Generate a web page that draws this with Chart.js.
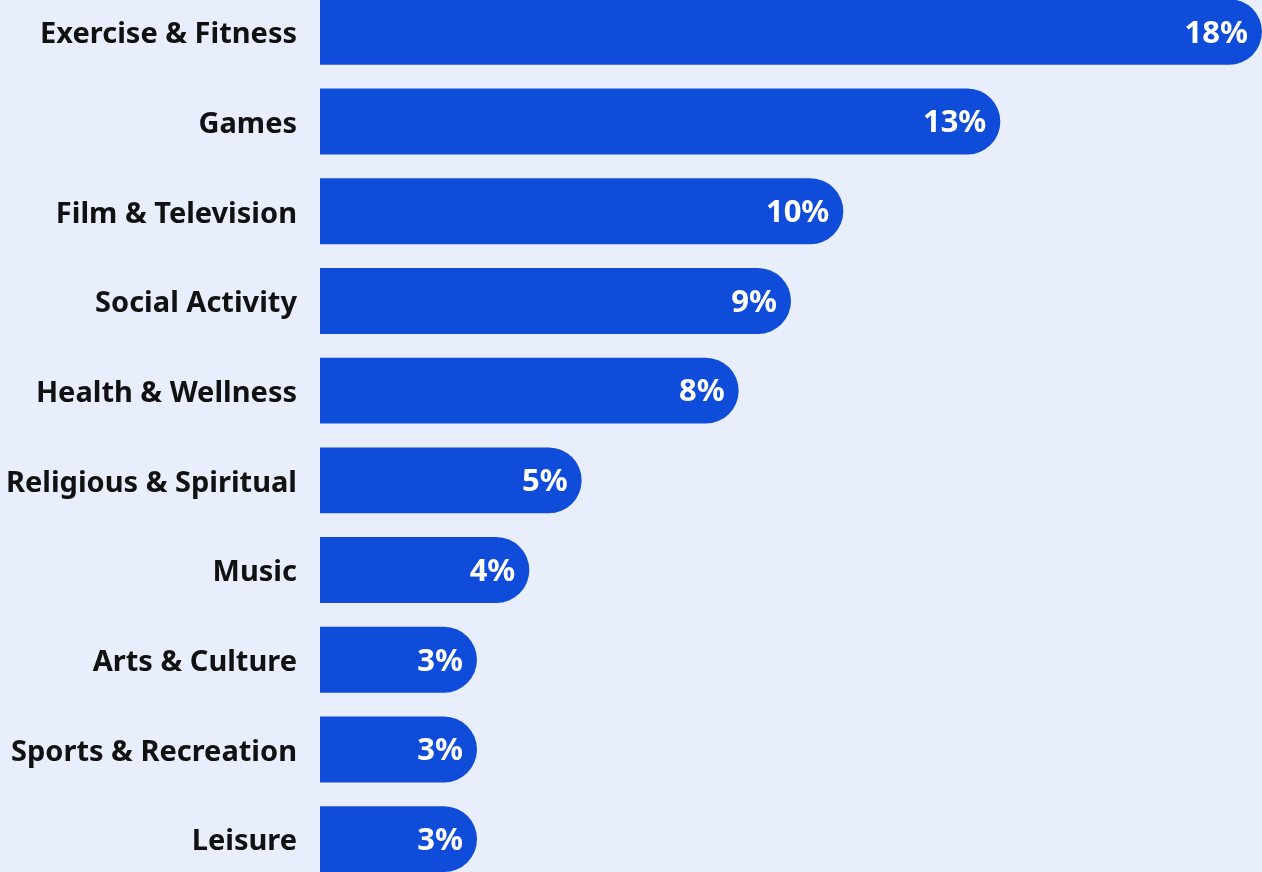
<!DOCTYPE html>
<html>
<head>
<meta charset="utf-8">
<script src="https://cdn.jsdelivr.net/npm/chart.js@4"></script>
<style>
  html, body { margin: 0; padding: 0; background: #E8EEFC; overflow: hidden; width: 1262px; height: 872px; }
  #wrap { position: absolute; left: 0; top: -13px; width: 1262px; height: 897px; }
  canvas { display: block; }
</style>
</head>
<body>
<div id="wrap"><canvas id="c" width="1262" height="897"></canvas></div>
<script>
const categories = ["Exercise & Fitness", "Games", "Film & Television", "Social Activity", "Health & Wellness", "Religious & Spiritual", "Music", "Arts & Culture", "Sports & Recreation", "Leisure"];
const shares = [18, 13, 10, 9, 8, 5, 4, 3, 3, 3];
const valueLabels = ["18%", "13%", "10%", "9%", "8%", "5%", "4%", "3%", "3%", "3%"];

const FONT = "'Noto Sans', 'Open Sans', sans-serif";

const valueLabelPlugin = {
  id: 'valueLabels',
  afterDatasetsDraw(chart) {
    const ctx = chart.ctx;
    const meta = chart.getDatasetMeta(0);
    ctx.save();
    ctx.fillStyle = '#FFFFFF';
    ctx.font = "bold 31px " + FONT;
    ctx.textAlign = 'right';
    ctx.textBaseline = 'middle';
    meta.data.forEach((bar, i) => {
      ctx.fillText(valueLabels[i], bar.x - 14, bar.y + 2);
    });
    ctx.restore();
  }
};

new Chart(document.getElementById('c'), {
  type: 'bar',
  data: {
    labels: categories,
    datasets: [{
      data: shares,
      backgroundColor: '#104CDA',
      borderWidth: 0,
      borderRadius: 40,
      borderSkipped: 'start',
      barPercentage: 1,
      categoryPercentage: 0.735
    }]
  },
  options: {
    indexAxis: 'y',
    responsive: false,
    animation: false,
    devicePixelRatio: 1,
    layout: { padding: 0 },
    plugins: { legend: { display: false }, tooltip: { enabled: false } },
    scales: {
      x: { display: false, min: 0, max: 18 },
      y: {
        afterFit(scale) { scale.width = 320; scale.paddingTop = 0; scale.paddingBottom = 0; },
        grid: { display: false, drawTicks: false },
        border: { display: false },
        ticks: {
          padding: 23,
          labelOffset: 3,
          color: '#111111',
          font: { family: FONT, size: 29, weight: 'bold' }
        }
      }
    }
  },
  plugins: [valueLabelPlugin]
});
</script>
</body>
</html>
